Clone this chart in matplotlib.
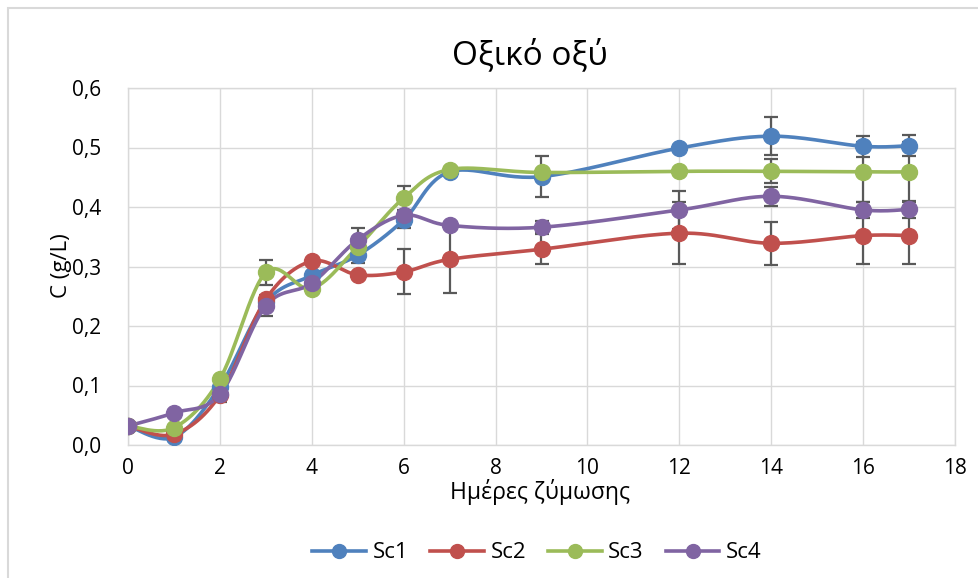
import numpy as np
import matplotlib
matplotlib.use('Agg')
import matplotlib.pyplot as plt
from matplotlib.patches import Rectangle

# Ημέρες ζύμωσης
days = [0, 1, 2, 3, 4, 5, 6, 7, 9, 12, 14, 16, 17]

sc1 = [0.032, 0.013, 0.098, 0.240, 0.285, 0.319, 0.378, 0.459, 0.451, 0.499, 0.519, 0.502, 0.503]
sc2 = [0.032, 0.018, 0.084, 0.245, 0.309, 0.286, 0.291, 0.312, 0.329, 0.356, 0.339, 0.352, 0.352]
sc3 = [0.032, 0.029, 0.111, 0.290, 0.263, 0.333, 0.415, 0.463, 0.458, 0.460, 0.460, 0.459, 0.459]
sc4 = [0.032, 0.054, 0.085, 0.234, 0.272, 0.345, 0.386, 0.369, 0.366, 0.395, 0.418, 0.395, 0.396]

# τυπικές αποκλίσεις (0 = χωρίς error bar)
err1 = [0, 0, 0, 0, 0, 0.013, 0.013, 0, 0.035, 0, 0.032, 0.018, 0.018]
err2 = [0, 0, 0.011, 0, 0, 0, 0.038, 0.057, 0.025, 0.052, 0.036, 0.047, 0.047]
err3 = [0, 0, 0, 0.021, 0, 0, 0.020, 0, 0, 0, 0.020, 0.050, 0.050]
err4 = [0, 0, 0, 0.018, 0, 0.019, 0, 0, 0.010, 0.032, 0.016, 0.014, 0.014]

labels = ['Sc1', 'Sc2', 'Sc3', 'Sc4']
colors = ['#4F81BD', '#C0504D', '#9BBB59', '#8064A2']

plt.rcParams['font.family'] = ['Open Sans', 'DejaVu Sans']


def smooth(x, y, n=30):
    # Catmull-Rom / Bezier σαν το "smoothed line" του Excel
    x = np.asarray(x, float)
    y = np.asarray(y, float)
    px = np.concatenate([[x[0]], x, [x[-1]]])
    py = np.concatenate([[y[0]], y, [y[-1]]])
    xs, ys = [], []
    t = np.linspace(0, 1, n)
    for i in range(1, len(px) - 2):
        p0 = np.array([px[i], py[i]])
        p3 = np.array([px[i + 1], py[i + 1]])
        c1 = p0 + (np.array([px[i + 1], py[i + 1]]) - np.array([px[i - 1], py[i - 1]])) / 6
        c2 = p3 - (np.array([px[i + 2], py[i + 2]]) - np.array([px[i], py[i]])) / 6
        b = ((1 - t) ** 3)[:, None] * p0 + (3 * (1 - t) ** 2 * t)[:, None] * c1 \
            + (3 * (1 - t) * t ** 2)[:, None] * c2 + (t ** 3)[:, None] * p3
        xs.extend(b[:, 0])
        ys.extend(b[:, 1])
    return np.array(xs), np.array(ys)


fig = plt.figure(figsize=(9.79, 5.78), dpi=100)
ax = fig.add_axes([128 / 979, 1 - 445 / 578, (955 - 128) / 979, (445 - 88) / 578])

# πλαίσιο γραφήματος
fig.patches.append(Rectangle((8 / 979, -0.5), 2, 0.5 + 1 - 8 / 578, transform=fig.transFigure,
                             fill=False, edgecolor='#D9D9D9', lw=1.5))

series = [sc1, sc2, sc3, sc4]
errs = [err1, err2, err3, err4]

# error bars πρώτα
for s, e in zip(series, errs):
    d = np.array(days)
    v = np.array(s)
    ee = np.array(e)
    m = ee > 0
    ax.errorbar(d[m], v[m], yerr=ee[m], fmt='none', ecolor='#595959', elinewidth=1.6,
                capsize=5, capthick=1.6, zorder=2)

for s, lab, c in zip(series, labels, colors):
    xs, ys = smooth(days, s)
    ax.plot(xs, ys, color=c, lw=2.6, zorder=3, solid_capstyle='round')
    ax.plot(days, s, 'o', color=c, ms=11.5, zorder=4)
    ax.plot([], [], '-o', color=c, lw=2.6, ms=10, label=lab)

ax.set_xlim(0, 18)
ax.set_ylim(0, 0.6)
ax.set_xticks(np.arange(0, 19, 2))
ax.set_yticks(np.arange(0, 0.61, 0.1))
ax.set_yticklabels([f'{v:.1f}'.replace('.', ',') for v in np.arange(0, 0.61, 0.1)])
ax.grid(True, color='#D9D9D9', lw=1)
ax.set_axisbelow(True)
for sp in ax.spines.values():
    sp.set_color('#D9D9D9')
    sp.set_linewidth(1)
ax.tick_params(axis='both', length=0, labelsize=15, colors='black')
ax.tick_params(axis='y', pad=19)
ax.tick_params(axis='x', pad=9)

fig.text(530 / 979, 1 - 55 / 578, 'Οξικό οξύ', ha='center', va='center', fontsize=24)
fig.text(540 / 979, 1 - 492 / 578, 'Ημέρες ζύμωσης', ha='center', va='center', fontsize=16.5)
fig.text(62 / 979, 1 - 266 / 578, 'C (g/L)', ha='center', va='center', rotation=90, fontsize=16)

fig.legend(loc='center', bbox_to_anchor=(537 / 979, 1 - 553 / 578), ncol=4, frameon=False,
           fontsize=16, handlelength=2.4, columnspacing=1.0, handletextpad=0.3)

plt.savefig('out.png', dpi=100)
